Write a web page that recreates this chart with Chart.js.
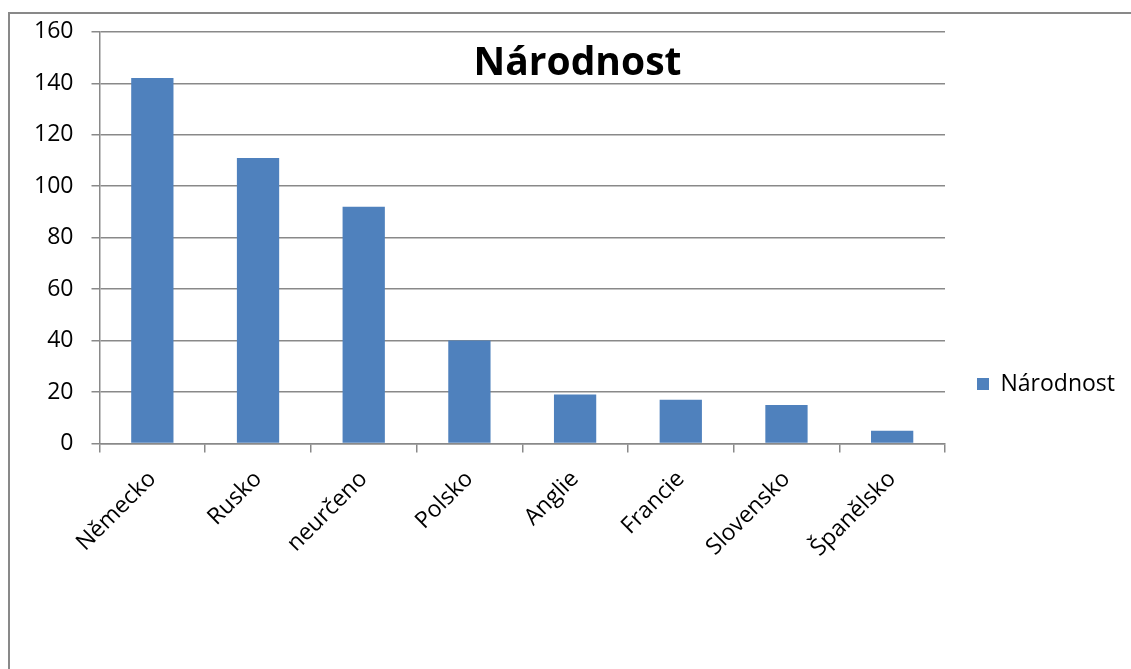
<!DOCTYPE html>
<html lang="cs">
<head>
<meta charset="utf-8">
<title>Národnost</title>
<script src="https://cdn.jsdelivr.net/npm/chart.js@4"></script>
<style>
  html, body { margin: 0; padding: 0; background: #ffffff; }
  canvas { display: block; }
</style>
</head>
<body>
<canvas id="chart" width="1131" height="669"></canvas>
<script>
// Počty osob podle národnosti
const categories = ['Německo', 'Rusko', 'neurčeno', 'Polsko', 'Anglie', 'Francie', 'Slovensko', 'Španělsko'];
const counts = [142, 111, 92, 40, 19, 17, 15, 5];
const seriesName = 'Národnost';
const chartTitle = 'Národnost';
const yMin = 0;
const yMax = 160;
const yStep = 20;

// Plot area inside the 1131x669 canvas
const CANVAS_H = 669;
const PLOT_LEFT = 99.5;
const PLOT_RIGHT = 945;
const PLOT_TOP = 30;
const PLOT_BOTTOM = 443.5;
const PAD = { top: PLOT_TOP, left: 30, right: 6, bottom: -69 };

const FONT = '"Open Sans", "Liberation Sans", sans-serif';
const LABEL_SIZE = 23;
const AXIS_GREY = '#898989';

// Legend: box + gap + text, sized so that the legend starts exactly at the plot's right edge
const LEGEND_BOX = 12;
const legendTextWidth = (() => {
  const ctx = document.createElement('canvas').getContext('2d');
  ctx.font = LABEL_SIZE + 'px ' + FONT;
  return ctx.measureText(seriesName).width;
})();
const legendWidth = 1131 - PAD.right - PLOT_RIGHT;
const legendPadding = legendWidth - 10 - LEGEND_BOX - LABEL_SIZE / 2 - legendTextWidth;

// White background and the grey chart frame (its right and bottom edges lie outside the canvas)
const framePlugin = {
  id: 'frame',
  beforeDraw(chart) {
    const ctx = chart.ctx;
    ctx.save();
    ctx.fillStyle = '#ffffff';
    ctx.fillRect(0, 0, chart.width, chart.height);
    ctx.strokeStyle = AXIS_GREY;
    ctx.lineWidth = 2;
    ctx.strokeRect(9, 13, 1300, 900);
    ctx.restore();
  }
};

new Chart(document.getElementById('chart'), {
  type: 'bar',
  data: {
    labels: categories,
    datasets: [{
      label: seriesName,
      data: counts,
      backgroundColor: '#4f81bd',
      borderWidth: 0,
      categoryPercentage: 1.0,
      barPercentage: 0.4
    }]
  },
  options: {
    responsive: false,
    animation: false,
    devicePixelRatio: 1,
    layout: { padding: PAD },
    plugins: {
      title: {
        display: true,
        text: chartTitle,
        color: '#000000',
        font: { family: FONT, size: 39, weight: 'bold', lineHeight: 1.2 },
        padding: { top: 9, bottom: -(9 + 39 * 1.2) }
      },
      legend: {
        display: true,
        position: 'right',
        labels: {
          color: '#000000',
          font: { family: FONT, size: LABEL_SIZE },
          boxWidth: LEGEND_BOX,
          boxHeight: LEGEND_BOX,
          padding: legendPadding
        }
      },
      tooltip: { enabled: false }
    },
    scales: {
      x: {
        offset: true,
        grid: {
          offset: true,
          drawOnChartArea: false,
          drawTicks: true,
          tickLength: 9,
          color: AXIS_GREY,
          lineWidth: 1.5
        },
        border: { color: AXIS_GREY, width: 1.5 },
        ticks: {
          color: '#000000',
          font: { family: FONT, size: LABEL_SIZE },
          minRotation: 45,
          maxRotation: 45,
          autoSkip: false,
          padding: 13
        },
        afterFit(scale) {
          scale.height = CANVAS_H - PAD.bottom - PLOT_BOTTOM;
        }
      },
      y: {
        min: yMin,
        max: yMax,
        grid: {
          color: AXIS_GREY,
          lineWidth: 1.5,
          tickLength: 8
        },
        border: { color: AXIS_GREY, width: 1.5 },
        ticks: {
          stepSize: yStep,
          color: '#000000',
          font: { family: FONT, size: LABEL_SIZE },
          padding: 18
        },
        afterFit(scale) {
          scale.width = PLOT_LEFT - PAD.left;
        }
      }
    }
  },
  plugins: [framePlugin]
});
</script>
</body>
</html>
